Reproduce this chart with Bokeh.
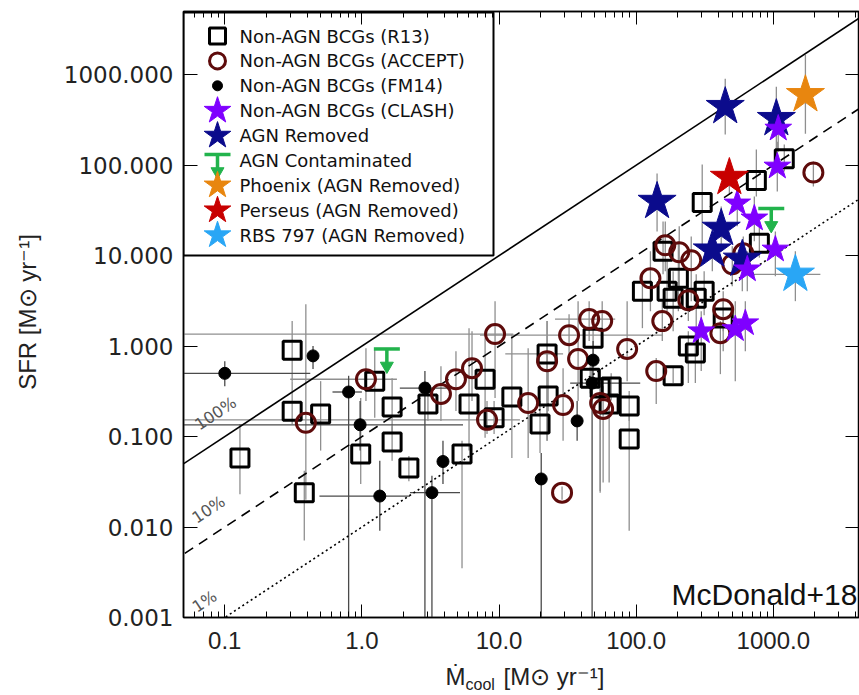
import math
from bokeh.plotting import figure
from bokeh.models import LogAxis, FixedTicker, Label, Range1d
from bokeh.layouts import column
from bokeh.embed import file_html
from bokeh.resources import INLINE

# ---------------- data (Mdot_cool, SFR) ----------------
# Non-AGN BCGs (R13)
r13_x = [0.31, 0.31, 0.50, 0.129, 0.38, 1.24, 1.66, 1.66, 0.98, 2.20, 3.03, 6.04, 5.37, 7.91, 12.4, 9.20,
         22.4, 22.8, 19.9, 48.5, 46.2, 54.6, 65.7, 63.5, 88.9, 88.9, 186, 240, 270, 111, 168, 186, 274, 313,
         203, 157, 303, 791, 752, 1202, 431]
r13_y = [0.90, 0.19, 0.178, 0.058, 0.024, 0.41, 0.212, 0.087, 0.064, 0.045, 0.229, 0.229, 0.064, 0.43, 0.274,
         0.161, 0.82, 0.281, 0.138, 1.22, 0.44, 0.344, 0.353, 0.229, 0.218, 0.094, 0.47, 1.0, 0.84, 4.04, 4.04,
         3.38, 3.38, 4.04, 5.62, 11.2, 38.7, 13.7, 67.8, 118, 2.04]
r13_ylo = [0.41, 0.138, 0.070, 0.023, 0.0071, 0.161, 0.11, 0.054, 0.030, 0.032, 0.15, 0.070, 0.0035, 0.097,
           0.058, 0.107, 0.090, 0.19, 0.066, 0.82, 0.30, 0.024, 0.25, 0.031, 0.149, 0.0091, 0.39, 0.39, 0.39,
           1.58, 2.43, 1.46, 1.58, 2.2, 2.43, 6.22, 12.0, 9.5, 45.2, 85.1, 0.88]
r13_yhi = [1.89, 0.41, 0.41, 0.138, 0.042, 0.95, 0.44, 0.13, 0.267, 0.061, 0.40, 1.58, 0.090, 1.22, 1.36,
           0.247, 1.89, 0.53, 0.247, 1.89, 0.60, 0.55, 0.50, 0.45, 0.32, 0.178, 0.60, 1.46, 1.46, 6.22, 8.66,
           6.71, 6.22, 6.71, 14.4, 23.9, 102, 22.2, 149, 169, 3.14]
r13_xlo = [0.31, 0.31, 0.50, 0.129, 0.38, 1.24, 1.66, 1.66, 0.98, 2.20, 3.03, 6.04, 5.37, 7.91, 12.4, 9.20,
           11.1, 22.8, 19.9, 48.5, 46.2, 54.6, 65.7, 63.5, 88.9, 88.9, 186, 240, 270, 111, 168, 186, 274, 313,
           203, 157, 303, 791, 752, 1202, 431]
r13_xhi = [0.31, 0.31, 0.50, 0.129, 0.38, 1.24, 1.66, 1.66, 0.98, 2.20, 3.03, 6.04, 5.37, 7.91, 12.4, 9.20,
           29.3, 22.8, 19.9, 48.5, 46.2, 54.6, 65.7, 63.5, 88.9, 88.9, 186, 240, 270, 111, 168, 186, 274, 313,
           203, 157, 303, 791, 752, 1202, 431]

# Non-AGN BCGs (ACCEPT)
acc_x = [0.39, 1.07, 3.77, 4.85, 6.35, 9.35, 8.17, 16.3, 22.4, 32.4, 37.7, 45.4, 56.5, 29.3, 54.6, 57.4,
         85.9, 140, 155, 28.8, 411, 431, 163, 206, 252, 127, 240, 502, 604, 1959]
acc_y = [0.142, 0.43, 0.296, 0.43, 0.57, 1.36, 0.153, 0.235, 0.68, 1.32, 0.72, 1.99, 1.89, 0.223, 0.235,
         0.202, 0.93, 0.53, 1.89, 0.024, 1.39, 2.56, 13.0, 10.9, 8.89, 5.62, 3.22, 8.02, 10.6, 83.0]
acc_ylo = [0.020, 0.247, 0.149, 0.192, 0.247, 0.267, 0.107, 0.058, 0.090, 0.68, 0.247, 1.14, 1.0, 0.090,
           0.025, 0.031, 0.41, 0.229, 1.14, 0.020, 0.49, 1.46, 6.71, 4.04, 3.14, 2.43, 1.89, 4.59, 5.92, 58.2]
acc_yhi = [2.90, 0.95, 0.60, 0.88, 1.46, 3.14, 0.247, 0.95, 1.89, 2.25, 3.14, 3.14, 3.14, 0.57, 0.41, 0.36,
           3.14, 0.74, 3.14, 0.028, 1.89, 4.04, 23.9, 21.1, 16.3, 11.2, 4.59, 12.7, 16.3, 110]
acc_xlo = [0.39, 0.30, 3.77, 4.85, 6.35, 0.05, 0.05, 16.3, 22.4, 7.26, 37.7, 25.6, 56.5, 29.3, 54.6, 57.4,
           85.9, 140, 155, 28.8, 411, 431, 163, 206, 252, 127, 240, 502, 604, 1959]
acc_xhi = [0.39, 1.80, 3.77, 4.85, 6.35, 12.7, 14.2, 16.3, 22.4, 157, 37.7, 70.3, 56.5, 29.3, 54.6, 57.4,
           85.9, 140, 155, 28.8, 411, 431, 163, 206, 252, 127, 240, 502, 604, 1959]

# Non-AGN BCGs (FM14)
fm_x = [0.100, 0.44, 0.80, 0.97, 2.88, 3.90, 1.35, 3.24, 20.3, 48.5, 47.7, 37.1]
fm_y = [0.50, 0.78, 0.311, 0.135, 0.344, 0.053, 0.022, 0.024, 0.034, 0.70, 0.39, 0.149]
fm_ylo = [0.36, 0.56, 0.001, 0.070, 0.001, 0.030, 0.0091, 0.001, 0.001, 0.41, 0.001, 0.090]
fm_yhi = [0.68, 1.0, 0.47, 0.247, 0.53, 0.090, 0.054, 0.037, 0.066, 1.14, 0.60, 0.247]
fm_xlo = [0.05, 0.44, 0.61, 0.05, 1.89, 3.90, 0.49, 2.24, 20.3, 48.5, 33.0, 37.1]
fm_xhi = [0.42, 0.44, 1.0, 5.46, 4.17, 3.90, 2.24, 5.19, 20.3, 48.5, 107, 37.1]

# Non-AGN BCGs (CLASH)
cl_x = [1086, 1069, 546, 727, 1035, 646, 298, 528, 625]
cl_y = [254, 96.7, 37.8, 25.8, 11.7, 7.06, 1.46, 1.54, 1.79]
cl_ylo = [141, 51.2, 21.1, 14.4, 5.92, 4.04, 0.53, 0.41, 0.88]
cl_yhi = [391, 182, 58.2, 45.2, 18.5, 11.2, 2.43, 3.14, 3.14]

# AGN Removed
ag_x = [446, 1052, 142, 417, 359, 594]
ag_y = [444, 327, 39.7, 20.0, 11.5, 9.11]
ag_ylo = [218, 153, 18.5, 11.2, 6.71, 4.04]
ag_yhi = [903, 738, 80.9, 35.0, 16.3, 14.4]

# Special clusters (AGN removed)
phx_x, phx_y, phx_ylo, phx_yhi = [1714], [601], [223], [1660]
per_x, per_y, per_ylo, per_yhi = [478], [73.1], [47.5], [110]
rbs_x, rbs_y, rbs_ylo, rbs_yhi, rbs_xlo, rbs_xhi = [1448], [6.22], [3.14], [11.2], [714], [2203]

# AGN Contaminated (upper limits)
ul_x = [1.52, 966]
ul_y = [0.93, 33.3]

# efficiency lines
eff_frac = [1.0, 0.1, 0.01]
eff_text = ["100%", "10%", "1%"]

x_major = [0.1, 1.0, 10.0, 100.0, 1000.0]
x_labels = ["0.1", "1.0", "10.0", "100.0", "1000.0"]
y_major = [0.001, 0.01, 0.1, 1.0, 10.0, 100.0, 1000.0]
y_labels = ["0.001", "0.010", "0.100", "1.000", "10.000", "100.000", "1000.000"]

legend_labels = ["Non-AGN BCGs (R13)", "Non-AGN BCGs (ACCEPT)", "Non-AGN BCGs (FM14)",
                 "Non-AGN BCGs (CLASH)", "AGN Removed", "AGN Contaminated",
                 "Phoenix (AGN Removed)", "Perseus (AGN Removed)", "RBS 797 (AGN Removed)"]

# ---------------- layout ----------------
W, H = 859, 695
H_MAIN = 658
FL, FT, FR, FB = 183, 11, 859, 617
XMIN, XMAX = 0.05, 4250.0
YMIN, YMAX = 0.001, 5000.0
LX0, LX1 = math.log10(XMIN), math.log10(XMAX)
LY0, LY1 = math.log10(YMIN), math.log10(YMAX)


def px2x(px):
    return 10 ** (LX0 + (px - FL) / (FR - FL) * (LX1 - LX0))


def py2y(py):
    return 10 ** (LY1 - (py - FT) / (FB - FT) * (LY1 - LY0))


def xfac(dpx):
    return 10 ** (dpx / (FR - FL) * (LX1 - LX0))


def yfac(dpx):
    return 10 ** (dpx / (FB - FT) * (LY1 - LY0))


C_ACC = "#5e0b0b"
C_CLASH = "#7f00ff"
C_AGN = "#0b0b8c"
C_PHX = "#e8860f"
C_PER = "#c80000"
C_RBS = "#29a6f5"
C_UL = "#22b34c"
C_ERR = "#8f8f8f"

p = figure(width=W, height=H_MAIN, x_axis_type="log", y_axis_type="log",
           x_range=(XMIN, XMAX), y_range=(YMIN, YMAX),
           output_backend="svg", toolbar_location=None,
           min_border_left=FL, min_border_right=0, min_border_top=FT, min_border_bottom=H_MAIN - FB)
p.grid.visible = False
p.outline_line_color = "black"
p.outline_line_width = 1.5
p.background_fill_color = "white"
p.border_fill_color = "white"

x_minor = [k * 10.0 ** d for d in range(-2, 4) for k in range(2, 10)]

xa = p.xaxis[0]
xa.ticker = FixedTicker(ticks=x_major, minor_ticks=x_minor)
xa.major_label_overrides = {v: s for v, s in zip(x_major, x_labels)}
xa.major_label_text_font = "Liberation Sans"
xa.major_label_text_font_size = "24px"
xa.major_label_text_color = "#222222"
xa.major_label_standoff = 14
xa.major_tick_in = 13
xa.major_tick_out = 0
xa.minor_tick_in = 6
xa.minor_tick_out = 0
xa.axis_line_width = 1.5

ya = p.yaxis[0]
ya.ticker = FixedTicker(ticks=y_major, minor_ticks=[])
ya.major_label_overrides = {v: s for v, s in zip(y_major, y_labels)}
ya.major_label_text_font = "DejaVu Sans"
ya.major_label_text_font_size = "23px"
ya.major_label_text_color = "#222222"
ya.major_label_standoff = 10
ya.major_tick_in = 14
ya.major_tick_out = 0
ya.minor_tick_in = 0
ya.minor_tick_out = 0
ya.axis_line_width = 1.5
ya.axis_label = "SFR [M\u2299 yr\u207b\u00b9]"
ya.axis_label_text_font = "Liberation Sans"
ya.axis_label_text_font_size = "24px"
ya.axis_label_text_font_style = "normal"
ya.axis_label_text_color = "#222222"
ya.axis_label_standoff = 20

top = LogAxis(ticker=FixedTicker(ticks=x_major, minor_ticks=x_minor),
              major_label_overrides={v: " " for v in x_major},
              major_label_text_font_size="2px", major_label_text_alpha=0, major_label_standoff=0,
              major_tick_in=13, major_tick_out=0, minor_tick_in=6, minor_tick_out=0,
              axis_line_width=1.5)
p.add_layout(top, "above")
right = LogAxis(ticker=FixedTicker(ticks=y_major, minor_ticks=[]),
                major_label_overrides={v: " " for v in y_major},
                major_label_text_font_size="2px", major_label_text_alpha=0, major_label_standoff=0,
                major_tick_in=14, major_tick_out=0, minor_tick_in=0, minor_tick_out=0,
                axis_line_width=1.5)
p.add_layout(right, "right")

# ---------------- error bars ----------------
def errbars(xs, ys, ylo, yhi, xlo=None, xhi=None, color=C_ERR, width=1.3):
    p.segment(x0=xs, y0=ylo, x1=xs, y1=yhi, line_color=color, line_width=width)
    if xlo is not None:
        p.segment(x0=xlo, y0=ys, x1=xhi, y1=ys, line_color=color, line_width=width)


errbars(r13_x, r13_y, r13_ylo, r13_yhi, r13_xlo, r13_xhi)
errbars(acc_x, acc_y, acc_ylo, acc_yhi, acc_xlo, acc_xhi)
errbars(fm_x, fm_y, fm_ylo, fm_yhi, fm_xlo, fm_xhi, color="#4a4a4a", width=1.3)
errbars(cl_x, cl_y, cl_ylo, cl_yhi)
errbars(ag_x, ag_y, ag_ylo, ag_yhi)
errbars(phx_x, phx_y, phx_ylo, phx_yhi)
errbars(per_x, per_y, per_ylo, per_yhi)
errbars(rbs_x, rbs_y, rbs_ylo, rbs_yhi, rbs_xlo, rbs_xhi)

# ---------------- efficiency lines ----------------
line_x = [XMIN * 0.5, XMAX * 2]
dashes = ["solid", "10 7", "2 3"]
for frac, dash in zip(eff_frac, dashes):
    p.line(line_x, [v * frac for v in line_x], line_color="black", line_width=1.6, line_dash=dash)

label_pos = [(215, 413), (208, 509), (204, 601)]
ang = math.atan2((FB - FT) / (LY1 - LY0), (FR - FL) / (LX1 - LX0))
for txt, (lx, ly) in zip(eff_text, label_pos):
    p.add_layout(Label(x=px2x(lx), y=py2y(ly), text=txt, angle=ang, text_align="center",
                       text_baseline="middle", text_font="DejaVu Sans", text_font_size="16px",
                       text_color="#555555"))

# ---------------- data markers ----------------
p.scatter(r13_x, r13_y, marker="square", size=18, fill_alpha=0, line_color="black", line_width=3)
p.scatter(acc_x, acc_y, marker="circle", size=19, fill_alpha=0, line_color=C_ACC, line_width=3)
p.scatter(fm_x, fm_y, marker="circle", size=12, fill_color="black", line_color="black")
p.scatter(ag_x, ag_y, marker="star", size=40, fill_color=C_AGN, line_color=C_AGN)
p.scatter(cl_x, cl_y, marker="star", size=28, fill_color=C_CLASH, line_color=C_CLASH)
p.scatter(phx_x, phx_y, marker="star", size=40, fill_color=C_PHX, line_color=C_PHX)
p.scatter(per_x, per_y, marker="star", size=40, fill_color=C_PER, line_color=C_PER)
p.scatter(rbs_x, rbs_y, marker="star", size=40, fill_color=C_RBS, line_color=C_RBS)


def upper_limit(xs, ys):
    fx = xfac(13)
    p.segment(x0=[v / fx for v in xs], y0=ys, x1=[v * fx for v in xs], y1=ys,
              line_color=C_UL, line_width=3.5)
    p.segment(x0=xs, y0=ys, x1=xs, y1=[v / yfac(14) for v in ys], line_color=C_UL, line_width=3.5)
    p.scatter(xs, [v / yfac(17) for v in ys], marker="inverted_triangle", size=13,
              fill_color=C_UL, line_color=C_UL)


upper_limit(ul_x, ul_y)

# ---------------- legend (drawn by hand) ----------------
p.quad(left=[px2x(183)], right=[px2x(493)], top=[py2y(12)], bottom=[py2y(255)],
       fill_color="white", line_color="black", line_width=2)
rows = [35.5 + 24.9 * i for i in range(len(legend_labels))]
sx = px2x(217)
p.scatter([sx], [py2y(rows[0])], marker="square", size=16, fill_alpha=0, line_color="black", line_width=3)
p.scatter([sx], [py2y(rows[1])], marker="circle", size=16, fill_alpha=0, line_color=C_ACC, line_width=3)
p.scatter([sx], [py2y(rows[2])], marker="circle", size=10, fill_color="black", line_color="black")
p.scatter([sx], [py2y(rows[3])], marker="star", size=28, fill_color=C_CLASH, line_color=C_CLASH)
p.scatter([sx], [py2y(rows[4])], marker="star", size=28, fill_color=C_AGN, line_color=C_AGN)
upper_limit([sx], [py2y(rows[5] - 6)])
p.scatter([sx], [py2y(rows[6])], marker="star", size=28, fill_color=C_PHX, line_color=C_PHX)
p.scatter([sx], [py2y(rows[7])], marker="star", size=28, fill_color=C_PER, line_color=C_PER)
p.scatter([sx], [py2y(rows[8])], marker="star", size=28, fill_color=C_RBS, line_color=C_RBS)
for txt, r in zip(legend_labels, rows):
    p.add_layout(Label(x=px2x(239), y=py2y(r), text=txt, text_align="left", text_baseline="middle",
                       text_font="DejaVu Sans", text_font_size="18px", text_color="#111111"))

p.add_layout(Label(x=px2x(671), y=py2y(594), text="McDonald+18", text_font="Liberation Sans",
                   text_font_size="30px", text_baseline="middle", text_color="#111111"))

# ---------------- x axis title (strip below the plot, frame aligned with the main plot) ----------------
t = figure(width=W, height=H - H_MAIN, x_range=Range1d(FL, W), y_range=Range1d(H, H_MAIN),
           output_backend="svg", toolbar_location=None, x_axis_location=None, y_axis_location=None,
           min_border_left=FL, min_border_right=0, min_border_top=0, min_border_bottom=0)
t.grid.visible = False
t.outline_line_color = None
t.background_fill_color = "white"
t.border_fill_color = "white"
t.add_layout(Label(x=445, y=676, text="\u1e40", text_font="Liberation Sans", text_font_size="24px",
                   text_baseline="middle", text_color="#222222"))
t.add_layout(Label(x=465, y=684, text="cool", text_font="Liberation Sans", text_font_size="16px",
                   text_baseline="middle", text_color="#222222"))
t.add_layout(Label(x=503, y=676, text="[M\u2299 yr\u207b\u00b9]", text_font="Liberation Sans",
                   text_font_size="24px", text_baseline="middle", text_color="#222222"))

layout = column(p, t, spacing=0)
open("out.html", "w").write(file_html(layout, INLINE))
